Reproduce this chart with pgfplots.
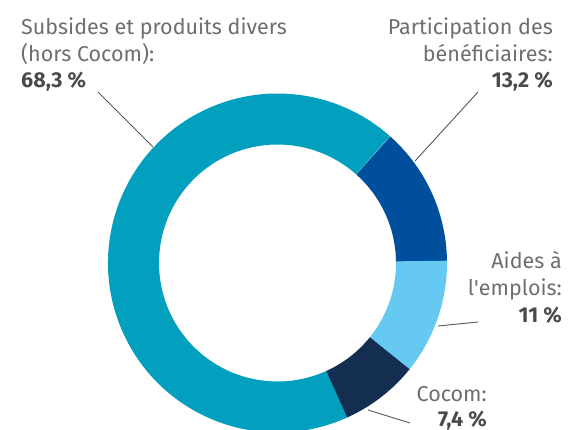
\documentclass[border=0pt]{standalone}
\usepackage{pgfplots}
\pgfplotsset{compat=1.18}
\usepackage{fontspec}
\setmainfont{Fira Sans}
\definecolor{cCyan}{HTML}{02A0BE}
\definecolor{cDark}{HTML}{004F9C}
\definecolor{cLight}{HTML}{66C9F1}
\definecolor{cNavy}{HTML}{142E52}
\definecolor{txt}{HTML}{6D6E70}
\definecolor{txtb}{HTML}{4A4A4C}
\definecolor{lead}{HTML}{58595B}
% sector: colour, cumulative share before (%), share (%)
\newcommand\sector[3]{%
  \fill[#1] (axis cs:{277.5+169.5*cos(48.3-3.6*#2)},{167+169.5*sin(48.3-3.6*#2)})
    arc[start angle={48.3-3.6*#2}, end angle={48.3-3.6*(#2+#3)-0.2}, radius=169.5bp]
    -- (axis cs:{277.5+118.5*cos(48.3-3.6*(#2+#3)-0.2)},{167+118.5*sin(48.3-3.6*(#2+#3)-0.2)})
    arc[start angle={48.3-3.6*(#2+#3)-0.2}, end angle={48.3-3.6*#2}, radius=118.5bp]
    -- cycle;}
\tikzset{lab/.style={font=\fontsize{21.5bp}{26bp}\selectfont, text=txt, inner sep=0pt},
         labb/.style={font=\fontsize{21.5bp}{26bp}\selectfont\bfseries, text=txtb, inner sep=0pt}}
\begin{document}
\begin{tikzpicture}
\useasboundingbox (0,0) rectangle (569bp,430bp);
\begin{axis}[at={(0,0)}, anchor=south west, x=1bp, y=1bp,
  xmin=0, xmax=569, ymin=0, ymax=430, enlargelimits=false, hide axis]
\sector{cCyan}{31.6}{68.3}
\sector{cDark}{0}{13.2}
\sector{cLight}{13.2}{11}
\sector{cNavy}{24.2}{7.4}
% leader lines
\draw[lead, line width=0.9bp] (axis cs:98,338) -- (axis cs:153,283);
\draw[lead, line width=0.9bp] (axis cs:478,338) -- (axis cs:415,269);
\draw[lead, line width=0.9bp] (axis cs:438,104) -- (axis cs:478,108);
\draw[lead, line width=0.9bp] (axis cs:368,20) -- (axis cs:410,7);
% labels
\node[lab, anchor=base west] at (axis cs:21,395) {Subsides et produits divers};
\node[lab, anchor=base west] at (axis cs:21,369) {(hors Cocom):};
\node[labb, anchor=base west] at (axis cs:21,343) {68,3 \%};
\node[lab, anchor=base east] at (axis cs:553,395) {Participation des};
\node[lab, anchor=base east] at (axis cs:553,369) {bénéficiaires:};
\node[labb, anchor=base east] at (axis cs:553,343) {13,2 \%};
\node[lab, anchor=base east] at (axis cs:562,162) {Aides à};
\node[lab, anchor=base east] at (axis cs:562,135) {l\textquotesingle emplois:};
\node[labb, anchor=base east] at (axis cs:562,108) {11 \%};
\node[lab, anchor=base east] at (axis cs:487,29) {Cocom:};
\node[labb, anchor=base east] at (axis cs:487,4) {7,4 \%};
\end{axis}
\end{tikzpicture}
\end{document}
